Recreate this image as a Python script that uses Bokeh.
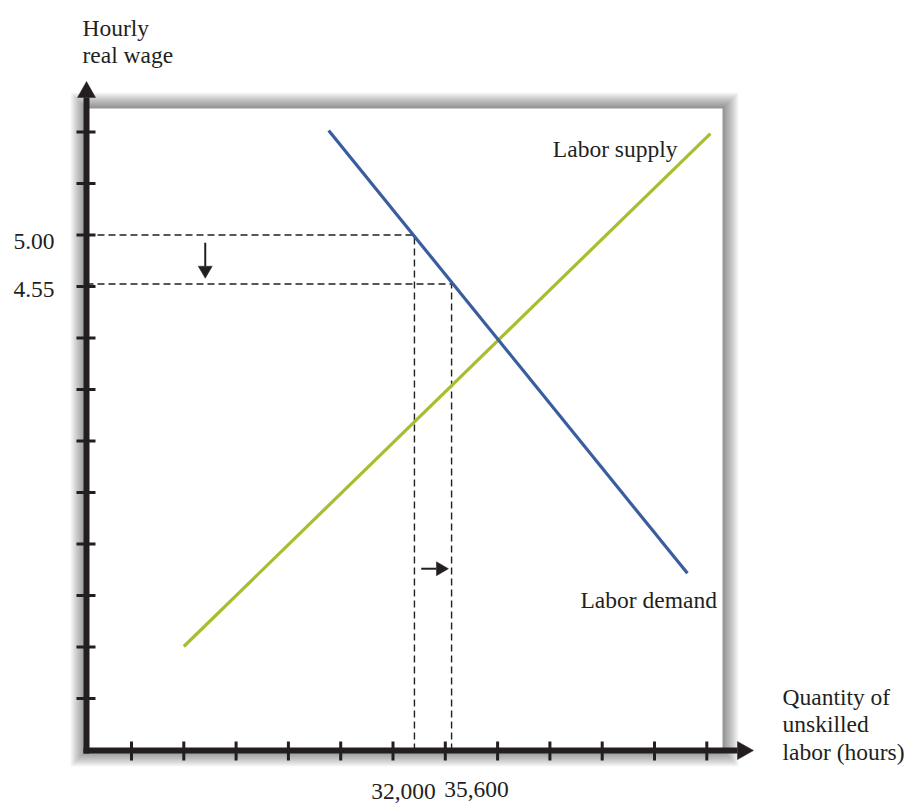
from bokeh.plotting import figure
from bokeh.embed import file_html
from bokeh.resources import INLINE
from bokeh.core.properties import value
from bokeh.models import Range1d

# ---------------- data (schematic units: axis ticks at integers) ----------------
x_ticks = list(range(1, 13))
y_ticks = list(range(1, 13))

supply_x = [2.0, 12.07]
supply_y = [2.01, 11.97]
demand_x = [4.77, 11.63]
demand_y = [12.03, 3.43]

wage_labels = ["5.00", "4.55"]
wage_pos = [10.0, 9.05]
qty_labels = ["32,000", "35,600"]
qty_pos = [6.41, 7.12]

# shift arrows: wage falls, quantity demanded rises
wage_arrow_x = 2.41
wage_arrow_y = [9.85, 9.16]
qty_arrow_y = 3.52
qty_arrow_x = [6.54, 7.06]

# ---------------- geometry helpers ----------------
SX = 52.3   # px per x unit
SY = 51.5   # px per y unit
W, H = 915, 805
X_LEFT_PX, Y_TOP_PX = 0, 0
def dx(px):
    return px / SX
def dy(px):
    return px / SY
def X(ipx):  # image pixel -> data x
    return (ipx - 131) / SX + 1
def Y(ipy):  # image pixel -> data y
    return (698 - ipy) / SY + 1

INK = "#231F20"
FONT = value("Liberation Serif")
FS = "23.5px"

p = figure(width=W, height=H, output_backend="svg", toolbar_location=None,
           x_axis_type=None, y_axis_type=None,
           x_range=Range1d(X(X_LEFT_PX), X(X_LEFT_PX + W)),
           y_range=Range1d(Y(Y_TOP_PX + H), Y(Y_TOP_PX)),
           min_border=0, min_border_left=0, min_border_right=0,
           min_border_top=0, min_border_bottom=0)
p.outline_line_color = None
p.background_fill_color = "white"
p.border_fill_color = "white"

x_origin = X(86)
y_origin = Y(750)
panel_right = X(722)
panel_top = Y(108)
x_tip = X(753)
y_tip = Y(81)

# ---------------- soft drop shadow around panel ----------------
n = 16
for i in range(n, 0, -1):
    p.quad(left=[x_origin - dx(i)], right=[panel_right + dx(i)],
           top=[panel_top + dy(i)], bottom=[y_origin - dy(i)],
           fill_color="black", fill_alpha=0.03, line_color=None)
p.quad(left=[x_origin], right=[panel_right], top=[panel_top], bottom=[y_origin],
       fill_color="white", line_color=None)

# ---------------- guides (dashed) ----------------
for wp, qp in zip(wage_pos, qty_pos):
    p.line([x_origin, qp], [wp, wp], line_color=INK, line_width=1.4, line_dash="7 4")
    p.line([qp, qp], [y_origin, wp], line_color=INK, line_width=1.4, line_dash="7 4")

# ---------------- curves ----------------
p.line(supply_x, supply_y, line_color="#A8BE2E", line_width=3.2)
p.line(demand_x, demand_y, line_color="#3A5DA0", line_width=3.2)

# ---------------- small shift arrows ----------------
head_len, head_w = 12, 14
p.line([wage_arrow_x, wage_arrow_x], [wage_arrow_y[0], wage_arrow_y[1] + dy(head_len)],
       line_color=INK, line_width=2)
p.patch([wage_arrow_x - dx(head_w / 2), wage_arrow_x + dx(head_w / 2), wage_arrow_x],
        [wage_arrow_y[1] + dy(head_len), wage_arrow_y[1] + dy(head_len), wage_arrow_y[1]],
        fill_color=INK, line_color=INK, line_width=0.5)
p.line([qty_arrow_x[0], qty_arrow_x[1] - dx(head_len)], [qty_arrow_y, qty_arrow_y],
       line_color=INK, line_width=2)
p.patch([qty_arrow_x[1] - dx(head_len), qty_arrow_x[1] - dx(head_len), qty_arrow_x[1]],
        [qty_arrow_y + dy(head_w / 2), qty_arrow_y - dy(head_w / 2), qty_arrow_y],
        fill_color=INK, line_color=INK, line_width=0.5)

# ---------------- axes ----------------
ah_len, ah_w = 16, 18
p.line([x_origin - dx(3), x_tip - dx(ah_len)], [y_origin, y_origin], line_color=INK, line_width=6)
p.line([x_origin, x_origin], [y_origin - dy(3), y_tip - dy(ah_len)], line_color=INK, line_width=6)
p.patch([x_tip - dx(ah_len), x_tip - dx(ah_len), x_tip],
        [y_origin + dy(ah_w / 2), y_origin - dy(ah_w / 2), y_origin],
        fill_color=INK, line_color=INK, line_width=0.5)
p.patch([x_origin - dx(ah_w / 2), x_origin + dx(ah_w / 2), x_origin],
        [y_tip - dy(ah_len), y_tip - dy(ah_len), y_tip],
        fill_color=INK, line_color=INK, line_width=0.5)

# ticks
p.segment(x0=x_ticks, x1=x_ticks,
          y0=[y_origin + dy(9)] * len(x_ticks), y1=[y_origin - dy(10)] * len(x_ticks),
          line_color=INK, line_width=3)
p.segment(x0=[x_origin - dx(10)] * len(y_ticks), x1=[x_origin + dx(9)] * len(y_ticks),
          y0=y_ticks, y1=y_ticks, line_color=INK, line_width=3)

# ---------------- texts ----------------
def txt(x, y, s, align="left", baseline="alphabetic"):
    p.text(x=[x], y=[y], text=[s], text_font=FONT, text_font_size=FS,
           text_color=INK, text_align=align, text_baseline=baseline)

txt(X(82), Y(27), "Hourly")
txt(X(82), Y(54), "real wage")

for s, wp in zip(wage_labels, wage_pos):
    txt(X(54), wp - dy(6), s, align="right")

txt(X(403), Y(791), qty_labels[0], align="center")
txt(X(476), Y(789), qty_labels[1], align="center")

txt(X(677), Y(148), "Labor supply", align="right")
txt(X(580), Y(599), "Labor demand")

txt(X(782), Y(696), "Quantity of")
txt(X(782), Y(723), "unskilled")
txt(X(782), Y(751), "labor (hours)")

open("out.html", "w").write(file_html(p, INLINE))
